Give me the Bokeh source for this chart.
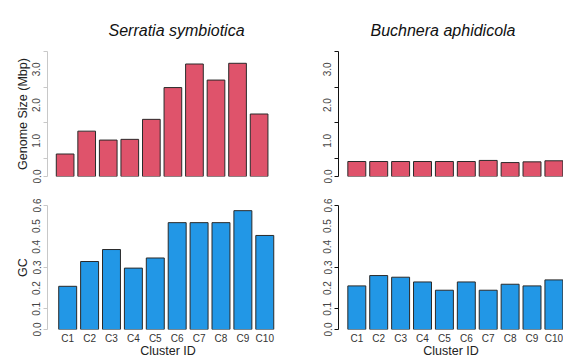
from bokeh.plotting import figure
from bokeh.layouts import gridplot
from bokeh.models import ColumnDataSource, Range1d, FixedTicker, PrintfTickFormatter
from bokeh.embed import file_html
from bokeh.resources import INLINE

clusters = ["C1", "C2", "C3", "C4", "C5", "C6", "C7", "C8", "C9", "C10"]
serratia_size = [0.63, 1.27, 1.02, 1.04, 1.60, 2.49, 3.15, 2.70, 3.17, 1.75]
buchnera_size = [0.42, 0.42, 0.42, 0.42, 0.42, 0.42, 0.45, 0.39, 0.41, 0.44]
serratia_gc = [0.209, 0.329, 0.387, 0.297, 0.346, 0.517, 0.517, 0.517, 0.575, 0.455]
buchnera_gc = [0.211, 0.261, 0.253, 0.230, 0.190, 0.230, 0.190, 0.219, 0.211, 0.240]

size_ticks = [0.0, 1.0, 2.0, 3.0]
size_minor = [0.0, 0.5, 1.5, 2.5, 3.5]
gc_ticks = [0.0, 0.1, 0.2, 0.3, 0.4, 0.5, 0.6]
gc_minor = [0.0, 0.1, 0.3, 0.6]

RED = "#DF536B"
BLUE = "#2297E6"
FONT = "Liberation Sans"


def make(values, color, ymax, ticks, minor, xs, xe, w, h, bl, br, bt, bb,
         title=None, title_offset=0, ylabel=None, faint=False, show_x=False):
    p = figure(width=w, height=h, x_range=Range1d(xs, xe), y_range=Range1d(0, ymax),
               output_backend="svg", toolbar_location=None, title=title,
               min_border_left=bl, min_border_right=br, min_border_top=bt,
               min_border_bottom=bb)
    src = ColumnDataSource(dict(x=list(range(1, len(clusters) + 1)), top=values))
    p.vbar(x="x", top="top", width=0.82, source=src, fill_color=color,
           line_color="#2a2a2a", line_width=1)
    p.outline_line_color = None
    p.xgrid.visible = False
    p.ygrid.visible = False
    p.background_fill_color = "white"
    p.border_fill_color = "white"
    if title:
        p.title.text_font = FONT
        p.title.text_font_style = "italic"
        p.title.text_font_size = "16px"
        p.title.text_color = "#111111"
        p.title.align = "left"
        p.title.offset = title_offset
        p.title.standoff = 26
    ax = p.yaxis[0]
    ax.ticker = FixedTicker(ticks=ticks, minor_ticks=minor)
    ax.formatter = PrintfTickFormatter(format="%.1f")
    acol = "#c8c8c8" if faint else "#111111"
    ax.axis_line_color = acol
    ax.major_tick_line_color = None
    ax.major_tick_out = 4
    ax.major_tick_in = 0
    ax.minor_tick_line_color = acol
    ax.minor_tick_out = 4
    ax.minor_tick_in = 0
    ax.major_label_orientation = "vertical"
    ax.major_label_standoff = 3
    ax.major_label_text_font = FONT
    ax.major_label_text_font_size = "10px"
    ax.major_label_text_color = "#444444"
    if ylabel:
        ax.axis_label = ylabel
        ax.axis_label_text_font = FONT
        ax.axis_label_text_font_style = "normal"
        ax.axis_label_text_font_size = "12.5px"
        ax.axis_label_text_color = "#222222"
        ax.axis_label_standoff = 0
    xa = p.xaxis[0]
    if show_x:
        xa.ticker = FixedTicker(ticks=list(range(1, len(clusters) + 1)))
        xa.major_label_overrides = {i + 1: c for i, c in enumerate(clusters)}
        xa.axis_line_color = None
        xa.major_tick_line_color = None
        xa.minor_tick_line_color = None
        xa.major_tick_out = 0
        xa.major_label_standoff = 3
        xa.major_label_text_font = FONT
        xa.major_label_text_font_size = "10px"
        xa.major_label_text_color = "#333333"
        xa.axis_label = "Cluster ID"
        xa.axis_label_text_font = FONT
        xa.axis_label_text_font_style = "normal"
        xa.axis_label_text_font_size = "12.5px"
        xa.axis_label_text_color = "#222222"
        xa.axis_label_standoff = -3
    else:
        xa.visible = False
    return p


p1 = make(serratia_size, RED, 3.5, size_ticks, size_minor, 0.182, 11.364,
          298, 190, 42, 10, 51, 14, title="Serratia symbiotica", title_offset=61,
          ylabel="Genome Size (Mbp)", faint=True)
p2 = make(buchnera_size, RED, 3.5, size_ticks, size_minor, 0.164, 10.438,
          265, 190, 40, 0, 51, 14, title="Buchnera aphidicola", title_offset=32)
p3 = make(serratia_gc, BLUE, 0.6, gc_ticks, gc_minor, 0.078, 11.083,
          298, 170, 47, 10, 15, 31, ylabel="GC", faint=True, show_x=True)
p4 = make(buchnera_gc, BLUE, 0.6, gc_ticks, gc_minor, 0.164, 10.438,
          265, 170, 40, 0, 15, 31, show_x=True)

grid = gridplot([[p1, p2], [p3, p4]], toolbar_location=None)

open("out.html", "w").write(file_html(grid, INLINE))
